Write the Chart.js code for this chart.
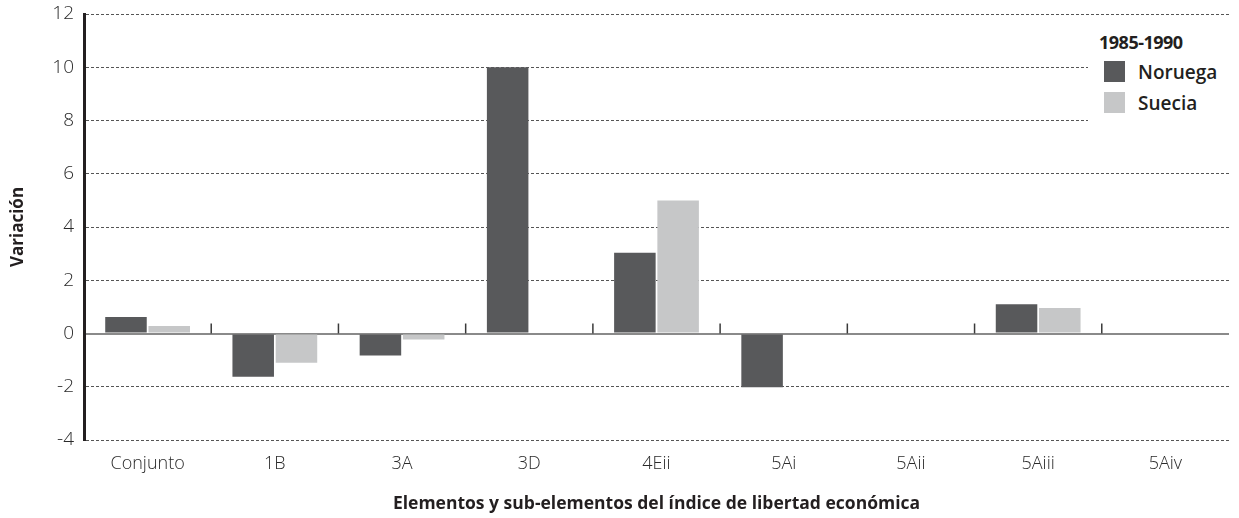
<!DOCTYPE html>
<html>
<head>
<meta charset="utf-8">
<script src="https://cdn.jsdelivr.net/npm/chart.js@4"></script>
<style>
  html, body { margin: 0; padding: 0; background: #fff; }
  #wrap { position: relative; width: 1239px; height: 518px; }
  #leyenda {
    position: absolute; left: 1088px; top: 28px; width: 151px; height: 98px;
    background: #fff; font-family: "Open Sans", sans-serif; color: #231f20;
  }
  #leyenda .titulo { position: absolute; left: 11px; top: 2px; font-size: 18px; font-weight: 700; letter-spacing: -0.5px; }
  #leyenda .item { position: absolute; left: 16px; font-size: 19px; font-weight: 600; line-height: 22px; }
  #leyenda .item span { display: inline-block; width: 21px; height: 21px; vertical-align: top; margin-right: 13px; }
</style>
</head>
<body>
<div id="wrap">
  <canvas id="grafico" width="1239" height="518"></canvas>
  <div id="leyenda"></div>
</div>
<script>
// Datos
const categorias = ['Conjunto', '1B', '3A', '3D', '4Eii', '5Ai', '5Aii', '5Aiii', '5Aiv'];
const noruega    = [0.62, -1.62, -0.83, 10, 3.03, -2.02, 0, 1.1, 0];
const suecia     = [0.28, -1.1, -0.23, 0, 5.0, 0, 0, 0.96, 0];
const periodo    = '1985-1990';
const series     = [
  { nombre: 'Noruega', color: '#58595b' },
  { nombre: 'Suecia',  color: '#c6c7c8' },
];

const FUENTE = '"Open Sans", sans-serif';

// Marcas cortas entre categorías sobre la línea del cero
const marcasCero = {
  id: 'marcasCero',
  afterDatasetsDraw(chart) {
    const { ctx, scales: { x, y } } = chart;
    const y0 = y.getPixelForValue(0);
    ctx.save();
    ctx.strokeStyle = '#3a3a3a';
    ctx.lineWidth = 1.5;
    for (let i = 0; i < categorias.length - 1; i++) {
      const px = (x.getPixelForValue(i) + x.getPixelForValue(i + 1)) / 2;
      ctx.beginPath();
      ctx.moveTo(px, y0);
      ctx.lineTo(px, y0 - 10);
      ctx.stroke();
    }
    ctx.restore();
  }
};

new Chart(document.getElementById('grafico'), {
  type: 'bar',
  data: {
    labels: categorias,
    datasets: [
      { label: series[0].nombre, data: noruega, backgroundColor: series[0].color },
      { label: series[1].nombre, data: suecia,  backgroundColor: series[1].color },
    ]
  },
  options: {
    responsive: false,
    animation: false,
    layout: { padding: { top: 0, right: 10, left: 0, bottom: 0 } },
    datasets: { bar: { categoryPercentage: 0.68, barPercentage: 0.96 } },
    plugins: {
      legend:  { display: false },
      tooltip: { enabled: false },
    },
    scales: {
      x: {
        grid:   { display: false, drawTicks: false },
        border: { display: false },
        ticks:  { color: '#2a2a2a', font: { family: FUENTE, size: 18, weight: 300 }, padding: 13 },
        title:  {
          display: true,
          text: 'Elementos y sub-elementos del índice de libertad económica',
          color: '#231f20',
          font: { family: FUENTE, size: 17.5, weight: 700 },
          padding: { top: 12, bottom: 3 },
        },
        afterFit: s => { s.height = 78; },
      },
      y: {
        min: -4,
        max: 12,
        ticks:  { stepSize: 2, color: '#2a2a2a', font: { family: FUENTE, size: 19, weight: 300 }, padding: 10 },
        grid: {
          drawTicks: false,
          color:     c => c.tick && c.tick.value === 0 ? '#8a8a8a' : '#555',
          lineWidth: c => c.tick && c.tick.value === 0 ? 2 : 1,
        },
        border: {
          color: '#231f20',
          width: 3,
          dash:  c => c.tick && c.tick.value === 0 ? [] : [3, 2],
        },
        title: {
          display: true,
          text: 'Variación',
          color: '#231f20',
          font: { family: FUENTE, size: 17, weight: 700 },
          padding: { top: 8, bottom: 4 },
        },
        afterFit: s => { s.width = 84; s.paddingTop = 14; },
      }
    }
  },
  plugins: [marcasCero]
});

// Leyenda
const leyenda = document.getElementById('leyenda');
leyenda.innerHTML = `<div class="titulo">${periodo}</div>` +
  series.map((s, i) =>
    `<div class="item" style="top:${33 + i * 31}px"><span style="background:${s.color}"></span>${s.nombre}</div>`
  ).join('');
</script>
</body>
</html>
